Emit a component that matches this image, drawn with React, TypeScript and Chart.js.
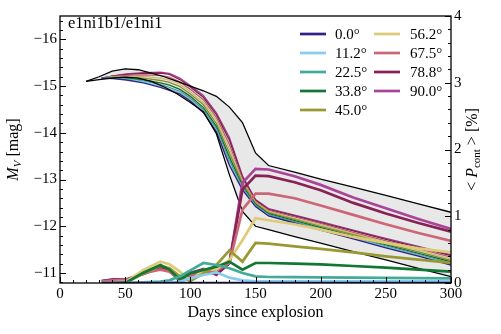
import React, { useEffect, useRef } from 'react';
import { Chart, registerables } from 'chart.js';

Chart.register(...registerables);

const FONT = '"Liberation Serif", "Times New Roman", serif';

// ---- data ----
const envDays = [20, 30, 40, 50, 60, 70, 80, 90, 100, 110, 120, 130, 140, 150, 160, 180, 200, 225, 250, 275, 300];
const envBright = [-15.1, -15.2, -15.32, -15.37, -15.35, -15.28, -15.2, -15.1, -15.0, -14.9, -14.78, -14.55, -14.22, -13.57, -13.3, -13.16, -13.01, -12.84, -12.66, -12.48, -12.3];
const envFaint = [-15.1, -15.14, -15.17, -15.19, -15.17, -15.1, -14.98, -14.83, -14.65, -14.45, -13.98, -13.1, -12.32, -12.0, -11.93, -11.78, -11.64, -11.46, -11.28, -11.1, -10.92];

const days = [32, 41, 51, 64, 77, 84, 92, 100, 110, 120, 130, 140, 150, 160, 180, 200, 225, 250, 275, 300];

const angleLabels = ['0.0°', '11.2°', '22.5°', '33.8°', '45.0°', '56.2°', '67.5°', '78.8°', '90.0°'];
const angleColors = ['#332288', '#88CCEE', '#44AA99', '#117733', '#999933', '#DDCC77', '#CC6677', '#882255', '#AA4499'];

// M_V light curves (left axis)
const mag00 = [-15.17, -15.16, -15.13, -15.07, -14.97, -14.91, -14.83, -14.68, -14.43, -14.02, -13.3, -12.78, -12.42, -12.22, -12.07, -11.92, -11.73, -11.54, -11.36, -11.17];
const mag11 = [-15.17, -15.16, -15.14, -15.09, -15.0, -14.94, -14.86, -14.71, -14.46, -14.05, -13.35, -12.8, -12.43, -12.23, -12.08, -11.93, -11.75, -11.56, -11.38, -11.19];
const mag22 = [-15.17, -15.17, -15.15, -15.11, -15.03, -14.97, -14.89, -14.74, -14.5, -14.09, -13.41, -12.83, -12.45, -12.25, -12.1, -11.95, -11.76, -11.58, -11.4, -11.21];
const mag33 = [-15.17, -15.18, -15.17, -15.13, -15.07, -15.02, -14.93, -14.78, -14.54, -14.14, -13.48, -12.87, -12.47, -12.27, -12.12, -11.97, -11.79, -11.6, -11.42, -11.24];
const mag45 = [-15.17, -15.19, -15.19, -15.17, -15.12, -15.08, -14.99, -14.83, -14.6, -14.2, -13.57, -12.92, -12.49, -12.29, -12.15, -12.0, -11.82, -11.63, -11.45, -11.27];
const mag56 = [-15.17, -15.2, -15.21, -15.21, -15.17, -15.13, -15.04, -14.88, -14.65, -14.27, -13.66, -12.96, -12.51, -12.32, -12.17, -12.03, -11.84, -11.66, -11.49, -11.3];
const mag67 = [-15.17, -15.21, -15.23, -15.24, -15.23, -15.19, -15.09, -14.93, -14.71, -14.33, -13.75, -13.01, -12.53, -12.34, -12.2, -12.06, -11.87, -11.69, -11.52, -11.34];
const mag78 = [-15.17, -15.22, -15.25, -15.27, -15.28, -15.25, -15.14, -14.98, -14.76, -14.39, -13.84, -13.05, -12.56, -12.36, -12.22, -12.08, -11.9, -11.72, -11.55, -11.37];
const mag90 = [-15.17, -15.22, -15.26, -15.29, -15.3, -15.27, -15.17, -15.01, -14.8, -14.43, -13.9, -13.08, -12.57, -12.38, -12.24, -12.1, -11.92, -11.74, -11.57, -11.39];

// continuum polarization (right axis)
const pol00 = [0.0, 0.0, 0.0, 0.0, 0.0, 0.0, 0.0, 0.0, 0.0, 0.0, 0.0, 0.0, 0.0, 0.0, 0.0, 0.0, 0.0, 0.0, 0.0, 0.0];
const pol11 = [0.0, 0.0, 0.0, 0.0, 0.0, 0.005, 0.02, 0.07, 0.12, 0.16, 0.08, 0.04, 0.025, 0.025, 0.025, 0.025, 0.025, 0.025, 0.025, 0.025];
const pol22 = [0.0, 0.0, 0.0, 0.01, 0.02, 0.04, 0.1, 0.19, 0.3, 0.27, 0.22, 0.15, 0.1, 0.09, 0.088, 0.085, 0.08, 0.077, 0.073, 0.07];
const pol33 = [0.0, 0.0, 0.01, 0.155, 0.27, 0.2, 0.05, 0.145, 0.195, 0.245, 0.32, 0.2, 0.3, 0.3, 0.29, 0.28, 0.255, 0.23, 0.2, 0.17];
const pol45 = [0.0, 0.0, 0.01, 0.14, 0.26, 0.22, 0.1, 0.03, 0.14, 0.27, 0.49, 0.32, 0.6, 0.59, 0.55, 0.51, 0.46, 0.4, 0.35, 0.3];
const pol56 = [0.0, 0.01, 0.02, 0.195, 0.32, 0.28, 0.17, 0.03, 0.195, 0.205, 0.345, 0.64, 0.97, 0.94, 0.88, 0.8, 0.69, 0.6, 0.52, 0.46];
const pol67 = [0.02, 0.04, 0.05, 0.15, 0.2, 0.17, 0.05, 0.1, 0.17, 0.185, 0.3, 1.1, 1.34, 1.34, 1.27, 1.16, 1.02, 0.88, 0.75, 0.63];
const pol78 = [0.03, 0.05, 0.05, 0.14, 0.245, 0.2, 0.06, 0.15, 0.2, 0.13, 0.3, 1.4, 1.61, 1.6, 1.51, 1.39, 1.2, 1.04, 0.9, 0.77];
const pol90 = [0.03, 0.055, 0.055, 0.135, 0.22, 0.18, 0.03, 0.145, 0.21, 0.12, 0.3, 1.5, 1.71, 1.7, 1.6, 1.47, 1.28, 1.12, 0.96, 0.81];

const magSeries = [mag00, mag11, mag22, mag33, mag45, mag56, mag67, mag78, mag90];
const polSeries = [pol00, pol11, pol22, pol33, pol45, pol56, pol67, pol78, pol90];

const xTicks = [0, 50, 100, 150, 200, 250, 300];
const modelLabel = 'e1ni1b1/e1ni1';

function pts(xs: number[], ys: number[]) {
  return xs.map((x, i) => ({ x, y: ys[i] }));
}

function drawPieces(ctx: CanvasRenderingContext2D, pieces: { t: string; f: string; dy: number }[], cx: number, cy: number) {
  let total = 0;
  for (const p of pieces) {
    ctx.font = p.f;
    total += ctx.measureText(p.t).width;
  }
  let x = cx - total / 2;
  for (const p of pieces) {
    ctx.font = p.f;
    ctx.fillText(p.t, x, cy + p.dy);
    x += ctx.measureText(p.t).width;
  }
}

const decorPlugin = {
  id: 'decor',
  afterDraw(chart: any) {
    const { ctx, chartArea: a, scales } = chart;
    ctx.save();
    ctx.strokeStyle = '#000';
    ctx.lineWidth = 1.3;
    ctx.strokeRect(a.left, a.top, a.right - a.left, a.bottom - a.top);
    ctx.lineWidth = 1;
    ctx.beginPath();
    const xs = scales.x;
    for (let v = 0; v <= 300; v += 10) {
      const px = Math.round(xs.getPixelForValue(v)) + 0.5;
      const len = v % 50 === 0 ? 6 : 3;
      ctx.moveTo(px, a.bottom);
      ctx.lineTo(px, a.bottom - len);
    }
    const ys = scales.y;
    for (let i = 0; i <= 30; i++) {
      const v = -16.4 + i * 0.2;
      if (v > -10.78) break;
      const py = Math.round(ys.getPixelForValue(v)) + 0.5;
      const major = Math.abs(v - Math.round(v)) < 1e-6;
      ctx.moveTo(a.left, py);
      ctx.lineTo(a.left + (major ? 6 : 3), py);
    }
    const y2 = scales.y2;
    for (let i = 0; i <= 20; i++) {
      const v = i * 0.2;
      const py = Math.round(y2.getPixelForValue(v)) + 0.5;
      const major = i % 5 === 0;
      ctx.moveTo(a.right, py);
      ctx.lineTo(a.right - (major ? 6 : 3), py);
    }
    ctx.stroke();

    ctx.fillStyle = '#000';
    ctx.textBaseline = 'middle';
    ctx.textAlign = 'left';
    // model label
    ctx.font = `16.5px ${FONT}`;
    ctx.fillText(modelLabel, 68, 24);

    // legend
    const polSets = chart.data.datasets.filter((d: any) => d.isPol);
    polSets.forEach((d: any, i: number) => {
      const col = i < 5 ? 0 : 1;
      const row = i < 5 ? i : i - 5;
      const lx = col === 0 ? 300 : 374;
      const tx = col === 0 ? 335 : 410;
      const ly = 34 + row * 19;
      ctx.strokeStyle = d.borderColor;
      ctx.lineWidth = 2.7;
      ctx.beginPath();
      ctx.moveTo(lx, ly);
      ctx.lineTo(lx + 26, ly);
      ctx.stroke();
      ctx.font = `15px ${FONT}`;
      ctx.fillText(d.label, tx, ly + 1);
    });

    // axis titles
    ctx.textBaseline = 'middle';
    ctx.font = `16px ${FONT}`;
    ctx.textAlign = 'center';
    ctx.fillText('Days since explosion', (a.left + a.right) / 2, 313);
    ctx.textAlign = 'left';

    ctx.save();
    ctx.translate(14, (a.top + a.bottom) / 2);
    ctx.rotate(-Math.PI / 2);
    drawPieces(ctx, [
      { t: 'M', f: `italic 16px ${FONT}`, dy: 0 },
      { t: 'V', f: `italic 11px ${FONT}`, dy: 4 },
      { t: ' [mag]', f: `16px ${FONT}`, dy: 0 },
    ], 0, 0);
    ctx.restore();

    ctx.save();
    ctx.translate(473, (a.top + a.bottom) / 2);
    ctx.rotate(-Math.PI / 2);
    drawPieces(ctx, [
      { t: '< ', f: `16px ${FONT}`, dy: 0 },
      { t: 'P', f: `italic 16px ${FONT}`, dy: 0 },
      { t: 'cont', f: `11px ${FONT}`, dy: 4 },
      { t: ' > [%]', f: `16px ${FONT}`, dy: 0 },
    ], 0, 0);
    ctx.restore();

    ctx.restore();
  },
};

export default function App() {
  const ref = useRef<HTMLCanvasElement>(null);

  useEffect(() => {
    if (!ref.current) return;
    const datasets: any[] = [];
    datasets.push({
      label: 'bright',
      data: pts(envDays, envBright),
      borderColor: '#000',
      borderWidth: 1.3,
      backgroundColor: 'rgba(0,0,0,0.09)',
      fill: '+1',
      pointRadius: 0,
      yAxisID: 'y',
      order: 3,
    });
    datasets.push({
      label: 'faint',
      data: pts(envDays, envFaint),
      borderColor: '#000',
      borderWidth: 1.3,
      fill: false,
      pointRadius: 0,
      yAxisID: 'y',
      order: 3,
    });
    magSeries.forEach((s, i) => {
      datasets.push({
        label: angleLabels[i] + ' M',
        data: pts(days, s),
        borderColor: angleColors[i],
        borderWidth: 1.3,
        fill: false,
        pointRadius: 0,
        yAxisID: 'y',
        order: 5,
      });
    });
    polSeries.forEach((s, i) => {
      datasets.push({
        label: angleLabels[i],
        isPol: true,
        data: pts(days, s),
        borderColor: angleColors[i],
        borderWidth: 2.7,
        fill: false,
        pointRadius: 0,
        yAxisID: 'y2',
        order: 1,
      });
    });

    const chart = new Chart(ref.current, {
      type: 'line',
      data: { datasets },
      options: {
        animation: false,
        responsive: false,
        maintainAspectRatio: false,
        devicePixelRatio: 1,
        layout: { padding: { top: 16, left: 0, right: 0, bottom: 0 } },
        plugins: { legend: { display: false }, tooltip: { enabled: false }, title: { display: false } },
        scales: {
          x: {
            type: 'linear',
            min: 0,
            max: 300,
            position: 'bottom',
            grid: { display: false, drawTicks: false },
            border: { display: false },
            ticks: {
              stepSize: 50,
              color: '#000',
              font: { family: FONT, size: 15 },
              padding: 2,
              maxRotation: 0,
              autoSkip: false,
              includeBounds: false,
              callback: (v: any) => (xTicks.includes(Number(v)) ? String(v) : ''),
            },
            afterFit: (s: any) => { s.height = 51; },
          },
          y: {
            type: 'linear',
            reverse: true,
            min: -16.5,
            max: -10.786,
            position: 'left',
            grid: { display: false, drawTicks: false },
            border: { display: false },
            ticks: {
              stepSize: 1,
              color: '#000',
              font: { family: FONT, size: 15 },
              padding: 3,
              includeBounds: false,
              callback: (v: any) => {
                const n = Number(v);
                if (Math.abs(n - Math.round(n)) > 1e-6) return '';
                return n < 0 ? '\u2212' + Math.abs(n) : String(n);
              },
            },
            afterFit: (s: any) => { s.width = 60; },
          },
          y2: {
            type: 'linear',
            min: 0,
            max: 4,
            position: 'right',
            grid: { display: false, drawTicks: false },
            border: { display: false },
            ticks: {
              stepSize: 1,
              color: '#000',
              font: { family: FONT, size: 15 },
              padding: 3,
              includeBounds: false,
            },
            afterFit: (s: any) => { s.width = 50; },
          },
        },
      },
      plugins: [decorPlugin],
    } as any);
    return () => chart.destroy();
  }, []);

  return (
    <div style={{ position: 'absolute', left: 0, top: 0, width: 501, height: 334, background: '#fff' }}>
      <canvas ref={ref} width={501} height={334} style={{ width: 501, height: 334, display: 'block' }} />
    </div>
  );
}
